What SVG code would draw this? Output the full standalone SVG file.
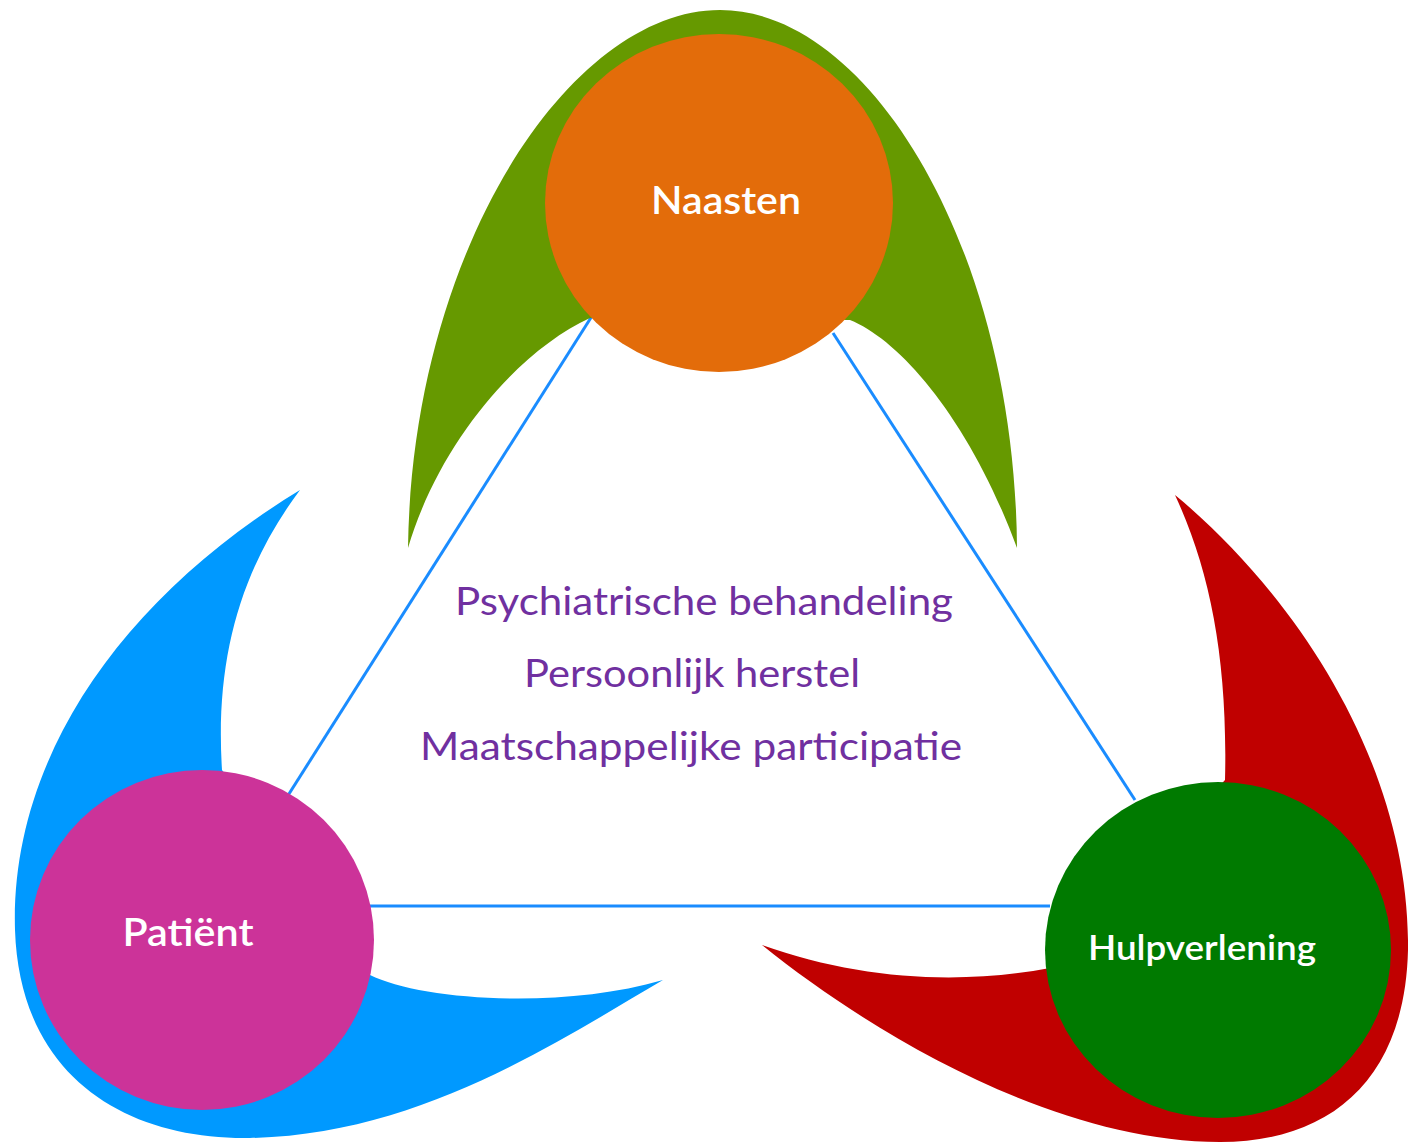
<svg xmlns="http://www.w3.org/2000/svg" width="1408" height="1144" viewBox="0 0 1408 1144">
<style>
.lbl{font-family:Lato,"Open Sans","Liberation Sans",sans-serif;fill:#ffffff;text-anchor:middle;font-weight:600}
.mid{font-family:Lato,"Open Sans","Liberation Sans",sans-serif;fill:#7030a0;text-anchor:middle;font-size:38px}
.conn{stroke:#1a8cff;stroke-width:3;fill:none}
</style>
<rect width="1408" height="1144" fill="#ffffff"/>
<g id="connectors">
<line class="conn" x1="592" y1="316" x2="287" y2="797"/>
<line class="conn" x1="833" y1="333" x2="1135" y2="800"/>
<line class="conn" x1="370" y1="906" x2="1050" y2="906"/>
</g>
<g id="naasten">
<path d="M408,548 C412,250 570,10 720,10 C870,10 1015,250 1017,548 C970,420 900,340 850,320 L590,318 C520,350 440,440 408,548 Z" fill="#669900"/>
<ellipse cx="719" cy="203" rx="174" ry="169" fill="#e36c0a"/>
<text class="lbl" x="726" y="214" font-size="38" textLength="150" lengthAdjust="spacingAndGlyphs">Naasten</text>
</g>
<g id="patient">
<path d="M300,490 C120,600 10,760 15,930 C20,1080 130,1140 250,1138 C420,1135 560,1040 663,980 C560,1010 420,1000 370,975 L222,770 C215,660 240,570 300,490 Z" fill="#0099ff"/>
<ellipse cx="202" cy="940" rx="172" ry="170" fill="#cc3399"/>
<text class="lbl" x="188" y="946" font-size="38" textLength="131" lengthAdjust="spacingAndGlyphs">Patiënt</text>
</g>
<g id="hulpverlening">
<path d="M1175,495 C1290,590 1410,760 1408,950 C1405,1080 1330,1142 1220,1142 C1060,1142 880,1040 762,945 C860,980 960,985 1050,968 L1225,780 C1228,660 1210,570 1175,495 Z" fill="#c00000"/>
<ellipse cx="1218" cy="950" rx="173" ry="168" fill="#007a00"/>
<text class="lbl" x="1202" y="960" font-size="34" textLength="228" lengthAdjust="spacingAndGlyphs">Hulpverlening</text>
</g>
<g id="center">
<text class="mid" x="704" y="615" textLength="498" lengthAdjust="spacingAndGlyphs">Psychiatrische behandeling</text>
<text class="mid" x="692" y="687" textLength="336" lengthAdjust="spacingAndGlyphs">Persoonlijk herstel</text>
<text class="mid" x="691" y="760" textLength="542" lengthAdjust="spacingAndGlyphs">Maatschappelijke participatie</text>
</g>
</svg>
